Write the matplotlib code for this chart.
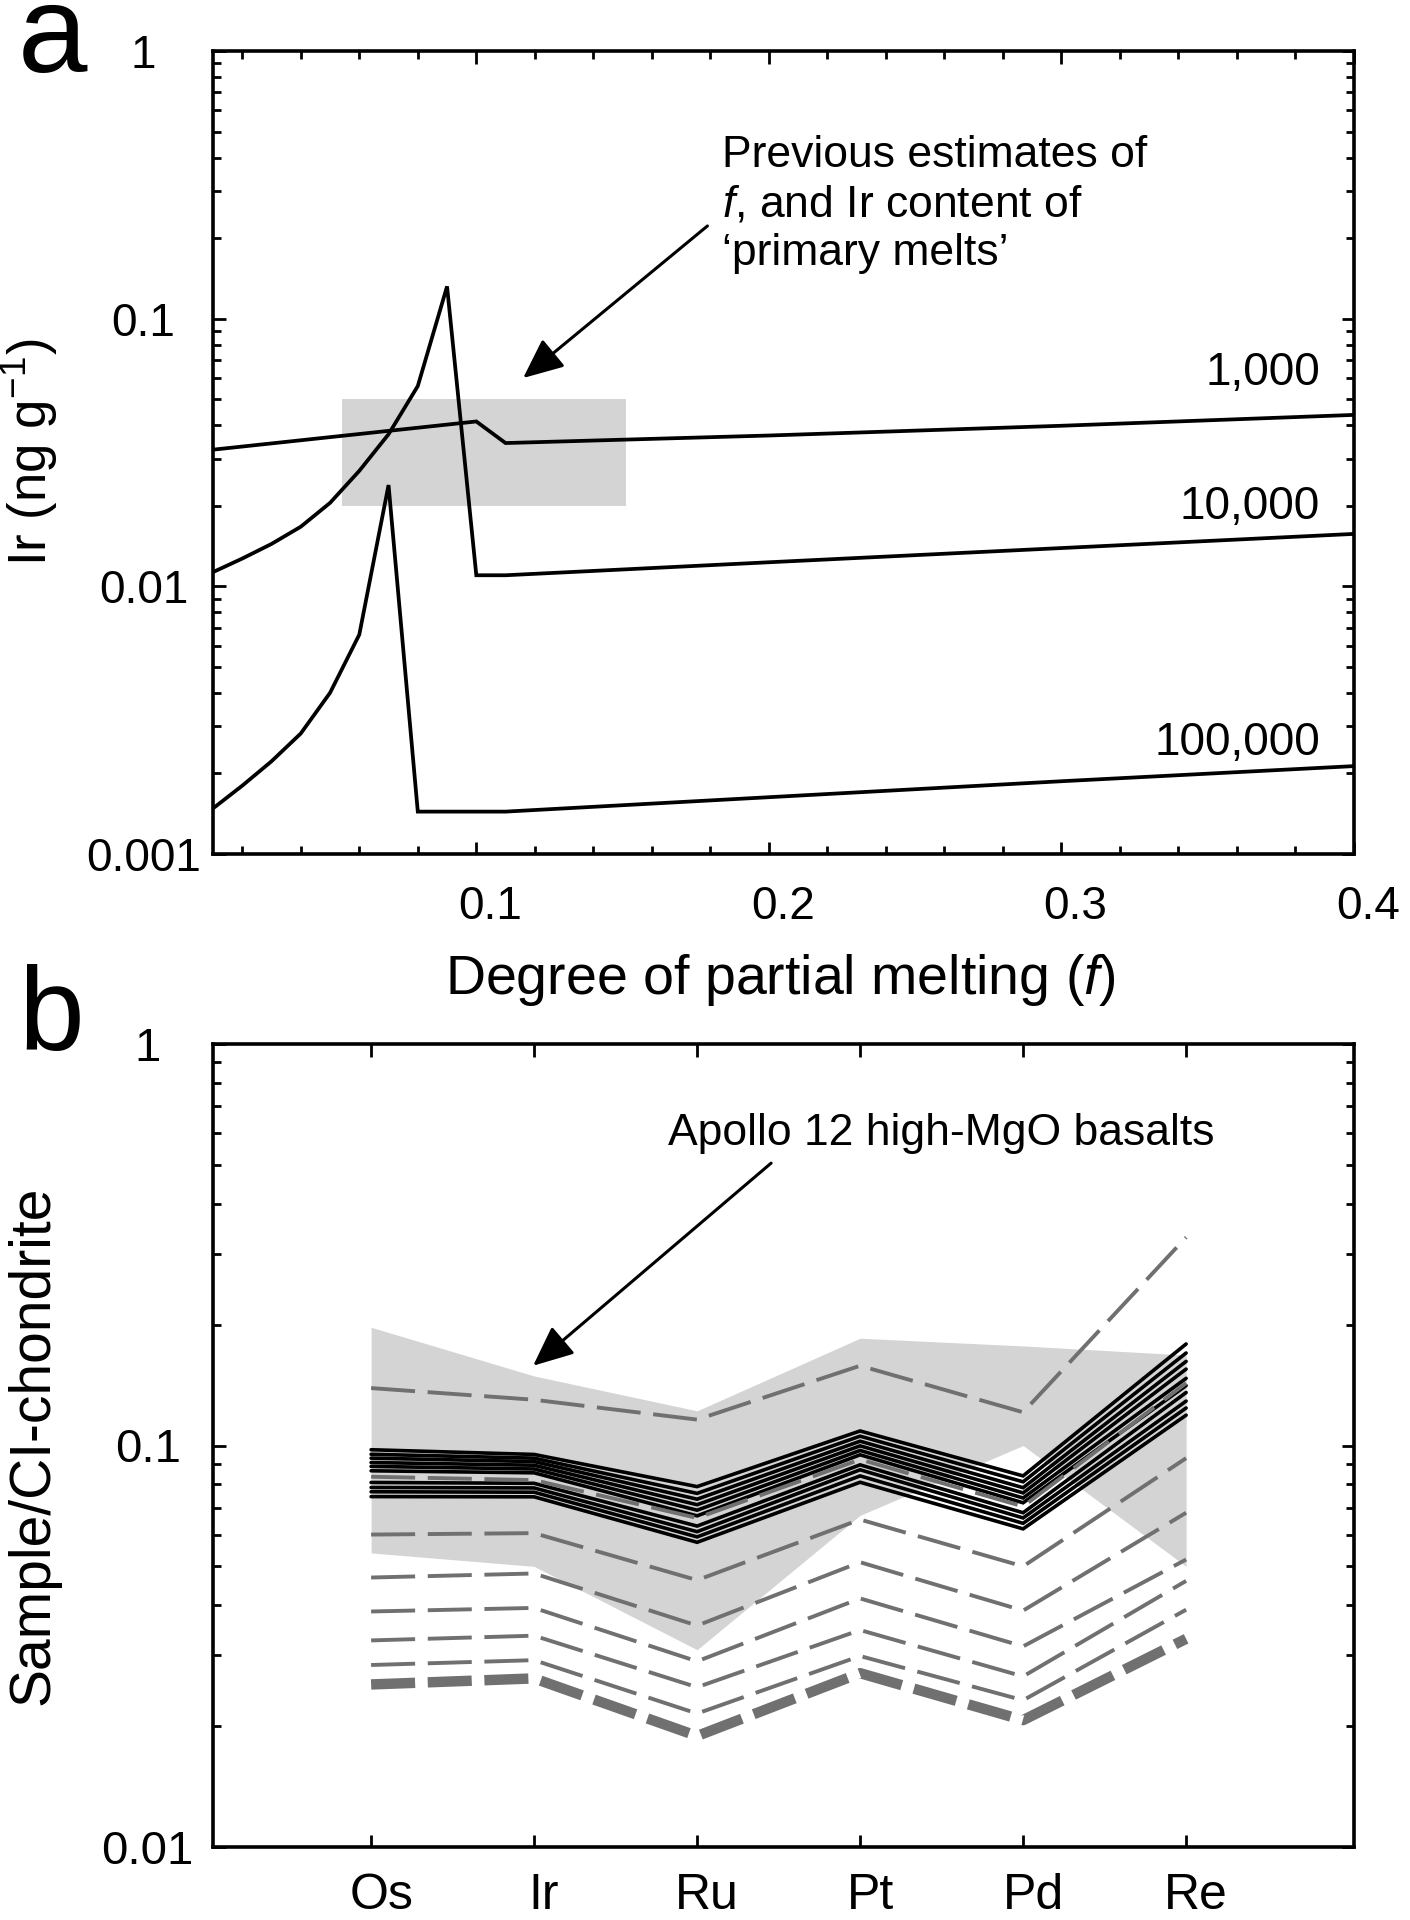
import numpy as np
import matplotlib
matplotlib.use("Agg")
import matplotlib.pyplot as plt
from matplotlib.transforms import ScaledTranslation
from matplotlib.ticker import (FixedLocator, MultipleLocator, LogLocator,
                               FuncFormatter, NullFormatter)

plt.rcParams["font.family"] = ["Liberation Sans", "DejaVu Sans"]
plt.rcParams["lines.scale_dashes"] = False
plt.rcParams["mathtext.fontset"] = "custom"
plt.rcParams["mathtext.rm"] = "Liberation Sans"
plt.rcParams["mathtext.it"] = "Liberation Sans:italic"

# ----------------------------------------------------------------------
# Panel a: Ir in melt vs degree of partial melting, three curves
# ----------------------------------------------------------------------
F_1000 = [0.01, 0.10, 0.11, 0.20, 0.30, 0.40]
IR_1000 = [0.0324, 0.0413, 0.0343, 0.0366, 0.0398, 0.0437]

F_10000 = [0.01, 0.02, 0.03, 0.04, 0.05, 0.06, 0.07, 0.08, 0.09,
           0.10, 0.11, 0.20, 0.30, 0.40]
IR_10000 = [0.0113, 0.0127, 0.0144, 0.0167, 0.0205, 0.0270, 0.0370,
            0.0560, 0.132, 0.0110, 0.0110, 0.0123, 0.0139, 0.0157]

F_100000 = [0.01, 0.02, 0.03, 0.04, 0.05, 0.06, 0.07, 0.08,
            0.11, 0.20, 0.30, 0.40]
IR_100000 = [0.00148, 0.00180, 0.00222, 0.00282, 0.00400, 0.00660,
             0.0239, 0.00144, 0.00144, 0.00163, 0.00187, 0.00213]

CURVE_LABELS = ["1,000", "10,000", "100,000"]

# previous estimates box (f range, Ir range)
BOX_F = [0.054, 0.151]
BOX_IR = [0.02, 0.05]

# ----------------------------------------------------------------------
# Panel b: CI-normalised HSE patterns
# ----------------------------------------------------------------------
ELEMENTS = ["Os", "Ir", "Ru", "Pt", "Pd", "Re"]

FIELD_HIGH = [0.197, 0.149, 0.122, 0.185, 0.177, 0.168]
FIELD_LOW = [0.054, 0.050, 0.031, 0.067, 0.100, 0.050]

MODEL_SOLID = [
    [0.0976, 0.0950, 0.0790, 0.1087, 0.0840, 0.179],
    [0.0951, 0.0930, 0.0760, 0.1055, 0.0812, 0.170],
    [0.0930, 0.0912, 0.0735, 0.1025, 0.0785, 0.162],
    [0.0907, 0.0893, 0.0712, 0.0998, 0.0762, 0.155],
    [0.0887, 0.0874, 0.0690, 0.0972, 0.0740, 0.147],
    [0.0865, 0.0855, 0.0668, 0.0948, 0.0720, 0.141],
    [0.0809, 0.0805, 0.0630, 0.0895, 0.0680, 0.1355],
    [0.0786, 0.0784, 0.0610, 0.0870, 0.0660, 0.129],
    [0.0767, 0.0765, 0.0592, 0.0840, 0.0640, 0.124],
    [0.0746, 0.0745, 0.0574, 0.0810, 0.0620, 0.119],
]

MODEL_DASHED = [
    [0.139, 0.130, 0.116, 0.158, 0.121, 0.330],
    [0.0600, 0.0605, 0.0462, 0.0654, 0.0500, 0.093],
    [0.0469, 0.0480, 0.0356, 0.0512, 0.0388, 0.068],
    [0.0386, 0.0394, 0.0290, 0.0416, 0.0316, 0.052],
    [0.0327, 0.0336, 0.0250, 0.0347, 0.0266, 0.046],
    [0.0284, 0.0292, 0.0215, 0.0299, 0.0232, 0.039],
]
MODEL_DASHED_BAND = [0.0836, 0.0820, 0.0660, 0.0923, 0.0705, 0.143]
MODEL_DASHED_THICK = [0.0254, 0.0263, 0.0189, 0.0271, 0.0207, 0.033]

# ----------------------------------------------------------------------
W, H = 1410, 1920
fig = plt.figure(figsize=(W / 100, H / 100), dpi=100)
ax_a = fig.add_axes([213 / W, 1 - 854 / H, 1141 / W, 803 / H])
ax_b = fig.add_axes([213 / W, 1 - 1847 / H, 1141 / W, 803 / H])

GRAY_FILL = "#d4d4d4"
DASH_GRAY = "#707070"
DASH = (31.7, 9.1)


def style_axes(ax, labelsize, ypad, xpad, xshift_px):
    for sp in ax.spines.values():
        sp.set_linewidth(2.6)
    ax.tick_params(which="both", direction="in", top=True, right=True,
                   width=2.0, labelsize=labelsize)
    ax.tick_params(which="major", length=9)
    ax.tick_params(which="minor", length=5.5)
    ax.tick_params(axis="x", pad=xpad)
    ax.tick_params(axis="y", pad=ypad)
    for t in ax.yaxis.get_major_ticks():
        t.label1.set_horizontalalignment("center")
    # x tick labels sit a little right of their ticks in the original
    shift = ScaledTranslation(xshift_px / 100, 0, fig.dpi_scale_trans)
    for t in ax.xaxis.get_major_ticks():
        t.label1.set_transform(t.label1.get_transform() + shift)


fmt = FuncFormatter(lambda v, p: f"{v:g}")

# --- panel a ---
ax_a.add_patch(plt.Rectangle((BOX_F[0], BOX_IR[0]), BOX_F[1] - BOX_F[0],
                             BOX_IR[1] - BOX_IR[0], color=GRAY_FILL, lw=0,
                             zorder=1))
for fx, iy in [(F_1000, IR_1000), (F_10000, IR_10000), (F_100000, IR_100000)]:
    ax_a.plot(fx, iy, color="black", lw=2.7, zorder=3,
              solid_joinstyle="miter")

ax_a.set_yscale("log")
ax_a.set_xlim(0.01, 0.4)
ax_a.set_ylim(0.001, 1)
ax_a.xaxis.set_major_locator(FixedLocator([0.1, 0.2, 0.3, 0.4]))
ax_a.xaxis.set_minor_locator(MultipleLocator(0.02))
ax_a.xaxis.set_major_formatter(fmt)
ax_a.yaxis.set_major_locator(LogLocator(base=10))
ax_a.yaxis.set_minor_locator(LogLocator(base=10, subs=np.arange(2, 10)))
ax_a.yaxis.set_major_formatter(fmt)
ax_a.yaxis.set_minor_formatter(NullFormatter())
style_axes(ax_a, 33, 50, 22, 14)

ax_a.set_xlabel("Degree of partial melting ($f$)", fontsize=40)
ax_a.xaxis.set_label_coords(0.497, -0.122)
ax_a.set_ylabel("Ir (ng g$^{-1}$)", fontsize=38)
ax_a.yaxis.set_label_coords(-0.134, 0.5)

for lab, yb in zip(CURVE_LABELS, [0.584, 0.4177, 0.1233]):
    ax_a.text(0.970, yb, lab, transform=ax_a.transAxes, ha="right",
              va="baseline", fontsize=33)

note_lines = ["Previous estimates of", "$f$, and Ir content of",
              "\u2018primary melts\u2019"]
for line, yb in zip(note_lines, [0.8555, 0.7933, 0.7335]):
    ax_a.text(0.446, yb, line, transform=ax_a.transAxes, ha="left",
              va="baseline", fontsize=32)

ax_a.annotate("", xy=(0.116, 0.060), xytext=(0.179, 0.222),
              arrowprops=dict(arrowstyle="-|>,head_length=0.45,head_width=0.2",
                              lw=2.2, color="black", shrinkA=0, shrinkB=0,
                              mutation_scale=55), zorder=5)

# --- panel b ---
X = np.arange(1, len(ELEMENTS) + 1)
ax_b.fill_between(X, FIELD_LOW, FIELD_HIGH, color=GRAY_FILL, lw=0, zorder=1)
for vals in MODEL_SOLID:
    ax_b.plot(X, vals, color="black", lw=2.6, zorder=3,
              solid_joinstyle="miter", solid_capstyle="round")
for vals in MODEL_DASHED:
    ax_b.plot(X, vals, color=DASH_GRAY, lw=2.8, dashes=DASH,
              dash_capstyle="butt", zorder=4)
ax_b.plot(X, MODEL_DASHED_BAND, color=DASH_GRAY, lw=2.8, dashes=DASH,
          dash_capstyle="butt", zorder=5)
ax_b.plot(X, MODEL_DASHED_THICK, color=DASH_GRAY, lw=7.5, dashes=DASH,
          dash_capstyle="butt", zorder=4)

ax_b.set_yscale("log")
ax_b.set_xlim(0.03, len(ELEMENTS) + 1.03)
ax_b.set_ylim(0.01, 1)
ax_b.set_xticks(X)
ax_b.set_xticklabels(ELEMENTS)
ax_b.yaxis.set_major_locator(LogLocator(base=10))
ax_b.yaxis.set_minor_locator(LogLocator(base=10, subs=np.arange(2, 10)))
ax_b.yaxis.set_major_formatter(fmt)
ax_b.yaxis.set_minor_formatter(NullFormatter())
style_axes(ax_b, 34, 47, 19, 10)
ax_b.tick_params(axis="x", labelsize=36)

ax_b.set_ylabel("Sample/CI-chondrite", fontsize=41)
ax_b.yaxis.set_label_coords(-0.134, 0.5)

ax_b.text(0.399, 0.874, "Apollo 12 high-MgO basalts", transform=ax_b.transAxes,
          ha="left", va="baseline", fontsize=32)
ax_b.annotate("", xy=(1.994, 0.158), xytext=(3.454, 0.505),
              arrowprops=dict(arrowstyle="-|>,head_length=0.45,head_width=0.2",
                              lw=2.2, color="black", shrinkA=0, shrinkB=0,
                              mutation_scale=55), zorder=6)

# panel letters
fig.text(18 / W, 1 - 72 / H, "a", fontsize=90, va="baseline", ha="left")
fig.text(18 / W, 1 - 1050 / H, "b", fontsize=85, va="baseline", ha="left")

fig.savefig("out.png", dpi=100)
